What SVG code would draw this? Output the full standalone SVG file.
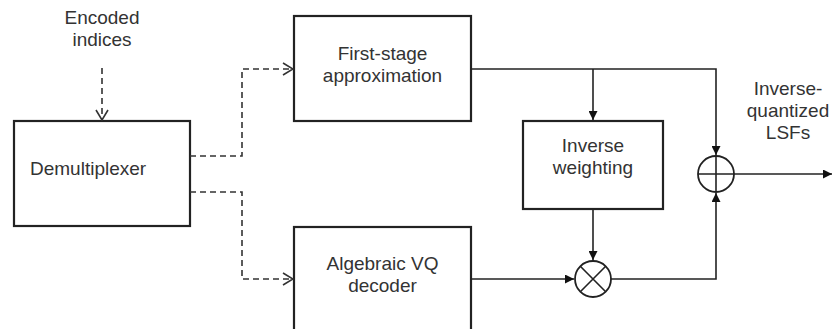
<svg xmlns="http://www.w3.org/2000/svg" width="832" height="329" viewBox="0 0 832 329">
<defs>
<style>
.box{fill:#fff;stroke:#222;stroke-width:2.2}
.t{font-family:"Liberation Sans",Arial,sans-serif;font-size:19px;fill:#333;text-anchor:middle}
.ln{fill:none;stroke:#222;stroke-width:1.6}
.dl{fill:none;stroke:#333;stroke-width:1.6;stroke-dasharray:6 4}
.op{fill:#fff;stroke:#222;stroke-width:1.8}
</style>
<marker id="solid" viewBox="0 0 10 10" refX="10" refY="5" markerWidth="9" markerHeight="9" markerUnits="userSpaceOnUse" orient="auto">
<path d="M0,0 L10,5 L0,10 z" fill="#111"/>
</marker>
<marker id="open" viewBox="0 0 12 14" refX="11" refY="7" markerWidth="12" markerHeight="14" markerUnits="userSpaceOnUse" orient="auto">
<path d="M1,1 L11,7 L1,13" fill="none" stroke="#333" stroke-width="1.6"/>
</marker>
</defs>
<rect width="832" height="329" fill="#fff"/>

<g id="encoded-label">
<text class="t" x="102" y="24">Encoded</text>
<text class="t" x="102" y="46">indices</text>
</g>

<g id="demultiplexer">
<rect class="box" x="14" y="121" width="176" height="105"/>
<text class="t" x="30" y="175" style="text-anchor:start">Demultiplexer</text>
</g>

<g id="first-stage">
<rect class="box" x="294" y="16" width="177" height="105"/>
<text class="t" x="382.5" y="60">First-stage</text>
<text class="t" x="382.5" y="82">approximation</text>
</g>

<g id="algebraic-vq">
<rect class="box" x="294" y="227" width="177" height="110"/>
<text class="t" x="382.5" y="270">Algebraic VQ</text>
<text class="t" x="382.5" y="292">decoder</text>
</g>

<g id="inverse-weighting">
<rect class="box" x="523" y="121" width="140" height="88"/>
<text class="t" x="593" y="152">Inverse</text>
<text class="t" x="593" y="174">weighting</text>
</g>

<g id="multiplier">
<circle class="op" cx="593" cy="279" r="18"/>
<path class="ln" d="M580.3,266.3 L605.7,291.7 M605.7,266.3 L580.3,291.7"/>
</g>

<g id="adder">
<circle class="op" cx="716" cy="174" r="18"/>
<path class="ln" d="M698,174 H734 M716,156 V192"/>
</g>

<g id="output-label">
<text class="t" x="788" y="95">Inverse-</text>
<text class="t" x="788" y="117">quantized</text>
<text class="t" x="788" y="139">LSFs</text>
</g>

<g id="connectors">
<path class="dl" d="M102,68 V120" marker-end="url(#open)"/>
<path class="dl" d="M190,156 H242 V69 H293" marker-end="url(#open)"/>
<path class="dl" d="M190,192 H242 V279 H293" marker-end="url(#open)"/>
<path class="ln" d="M471,69 H716 V155" marker-end="url(#solid)"/>
<path class="ln" d="M593,69 V120" marker-end="url(#solid)"/>
<path class="ln" d="M593,209 V260" marker-end="url(#solid)"/>
<path class="ln" d="M471,279 H574" marker-end="url(#solid)"/>
<path class="ln" d="M611,279 H716 V193" marker-end="url(#solid)"/>
<path class="ln" d="M734,174 H832" marker-end="url(#solid)"/>
</g>
</svg>
